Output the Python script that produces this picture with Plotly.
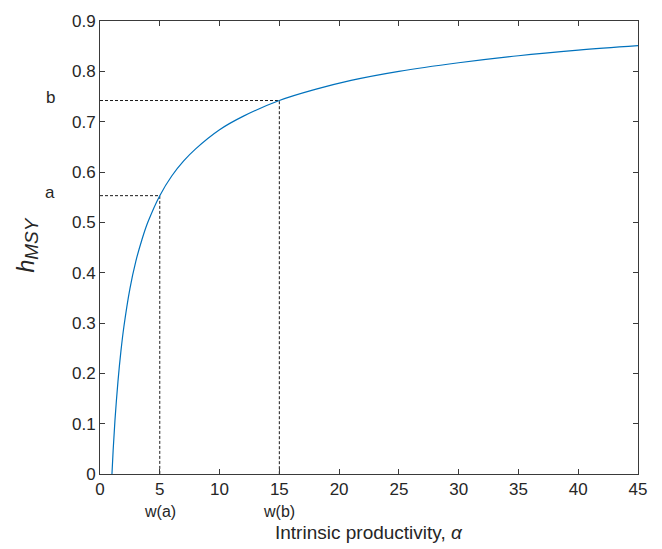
import plotly.graph_objects as go

# Harvest rate at MSY versus intrinsic productivity
alpha = [1.0, 1.1, 1.25, 1.5, 1.75, 2.0, 2.5, 3.0, 3.5, 4.0, 5.0, 6.0, 7.0, 8.0,
         10.0, 12.0, 15.0, 18.0, 21.0, 25.0, 30.0, 35.0, 40.0, 45.0]
h_msy = [0.0, 0.047, 0.106, 0.183, 0.244, 0.293, 0.368, 0.423, 0.465, 0.500,
         0.553, 0.592, 0.622, 0.646, 0.684, 0.711, 0.742, 0.764, 0.782, 0.800,
         0.817, 0.831, 0.842, 0.851]

# Reference points marked with dashed guides
mark_alpha = [5, 15]
mark_h = [0.553, 0.742]
mark_x_labels = ["w(a)", "w(b)"]
mark_y_labels = ["a", "b"]

x_ticks = [0, 5, 10, 15, 20, 25, 30, 35, 40, 45]
y_ticks = [0, 0.1, 0.2, 0.3, 0.4, 0.5, 0.6, 0.7, 0.8, 0.9]

FONT = "Liberation Sans, Arial, Helvetica, sans-serif"
AX = "#3a3a3a"
TXT = "#262626"

fig = go.Figure()

for xa, yh in zip(mark_alpha, mark_h):
    fig.add_trace(go.Scatter(
        x=[0, xa, xa], y=[yh, yh, 0], mode="lines",
        line=dict(color="#1a1a1a", width=1, dash="3px,2px"),
        hoverinfo="skip", showlegend=False))

fig.add_trace(go.Scatter(
    x=alpha, y=h_msy, mode="lines", line_shape="spline",
    line=dict(color="#0072BD", width=1.2), showlegend=False))

for xa, lab in zip(mark_alpha, mark_x_labels):
    fig.add_annotation(x=xa, xref="x", y=0, yref="paper", yanchor="middle",
                       yshift=-37, text=lab, showarrow=False,
                       font=dict(family=FONT, size=16, color=TXT))

for yh, lab in zip(mark_h, mark_y_labels):
    fig.add_annotation(x=0, xref="paper", xanchor="center", xshift=-50,
                       y=yh, yref="y", yshift=3, text=lab, showarrow=False,
                       font=dict(family=FONT, size=17, color=TXT))

fig.add_annotation(x=0.5, xref="paper", y=0, yref="paper", yanchor="middle",
                   yshift=-58, text="Intrinsic productivity, <i>α</i>",
                   showarrow=False, font=dict(family=FONT, size=19, color=TXT))

fig.add_annotation(x=0, xref="paper", xanchor="center", xshift=-73,
                   y=0.5, yref="paper", yshift=2, textangle=-90,
                   text="<i>h</i><sub><i><span style='font-size:19px'>MSY</span></i></sub>",
                   showarrow=False,
                   font=dict(family=FONT, size=23, color=TXT))

axis_common = dict(
    showgrid=False, zeroline=False, showline=True, linecolor=AX, linewidth=1,
    mirror="ticks", ticks="inside", ticklen=5, tickcolor=AX, tickwidth=1,
    tickfont=dict(family=FONT, size=17, color=TXT))

fig.update_xaxes(range=[0, 45], tickvals=x_ticks,
                 ticktext=[str(v) for v in x_ticks], **axis_common)
fig.update_yaxes(range=[0, 0.9], tickvals=y_ticks,
                 ticktext=["0" if v == 0 else f"{v:.1f}" for v in y_ticks],
                 **axis_common)

fig.update_layout(
    width=662, height=549,
    margin=dict(l=100, r=24, t=15, b=75),
    plot_bgcolor="white", paper_bgcolor="white",
    showlegend=False)

fig.write_html("out.html")
